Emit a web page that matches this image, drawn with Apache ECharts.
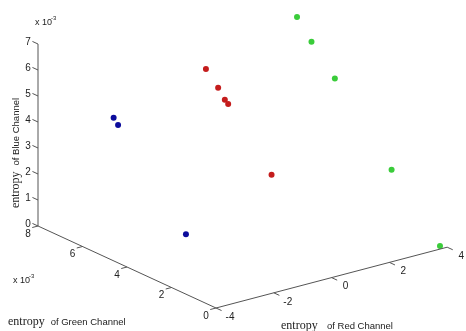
<!DOCTYPE html>
<html>
<head>
<meta charset="utf-8">
<script src="https://cdn.jsdelivr.net/npm/echarts@6/dist/echarts.min.js"></script>
<style>
html, body { margin: 0; padding: 0; background: #fff; }
#chart { width: 466px; height: 331px; }
</style>
</head>
<body>
<div id="chart"></div>
<script>
// [red entropy, green entropy (x1e-3), blue entropy (x1e-3)]
const bluePoints = [[-3, 5.9, 4.7], [-3, 5.7, 4.5], [-3, 2.65, 1.5]]
const redPoints = [[-1, 4.35, 6.6], [-1, 3.8, 6.1], [-1, 3.5, 5.75], [-1, 3.35, 5.65], [-1, 1.4, 3.7]]
const greenPoints = [[3.5, 6.1, 6.6], [3.5, 5.45, 5.9], [3.5, 4.4, 4.9], [3.5, 1.85, 2.4], [3.75, 0, 0.12]]

const redTicks = [-4, -2, 0, 2, 4]
const greenTicks = [0, 2, 4, 6, 8]
const blueTicks = [0, 1, 2, 3, 4, 5, 6, 7]

const redMin = -4
const redMax = 4
const greenMax = 8
const blueMax = 7

// oblique 3d view, screen px per data unit on each axis
const view = { origin: [216, 308], ex: [28.9, -7.6], ey: [-22.25, -10.25], ez: [0, -26] }

const axisColor = '#555'
const textColor = '#222'
const sans = `'Liberation Sans', Arial, sans-serif`
const serif = `'Liberation Serif', 'Times New Roman', serif`

function project (p) {
  const u = p[0] - redMin
  return [
    view.origin[0] + u * view.ex[0] + p[1] * view.ey[0] + p[2] * view.ez[0],
    view.origin[1] + u * view.ex[1] + p[1] * view.ey[1] + p[2] * view.ez[1]
  ]
}

function axisLine (from, to) {
  return {
    type: 'line',
    silent: true,
    symbol: 'none',
    lineStyle: { color: axisColor, width: 1 },
    data: [project(from), project(to)]
  }
}

function axisTicks (ticks, toPoint, tickDir, offset) {
  return {
    type: 'custom',
    silent: true,
    data: ticks.map(t => [t, 0]),
    renderItem (params, api) {
      const v = api.value(0)
      const p = toPoint(v)
      const a = api.coord(project(p))
      const b = api.coord(project([p[0] + tickDir[0], p[1] + tickDir[1], p[2] + tickDir[2]]))
      return {
        type: 'group',
        children: [
          { type: 'line', shape: { x1: a[0], y1: a[1], x2: b[0], y2: b[1] }, style: { stroke: axisColor, lineWidth: 1 } },
          {
            type: 'text',
            x: a[0] + offset[0],
            y: a[1] + offset[1],
            style: { text: String(v), fill: textColor, font: `10px ${sans}`, align: 'center', verticalAlign: 'middle' }
          }
        ]
      }
    }
  }
}

function dots (points, color) {
  return {
    type: 'scatter',
    symbol: 'circle',
    symbolSize: 6,
    itemStyle: { color: color, opacity: 1 },
    data: points.map(project)
  }
}

const titleRich = {
  s: { fontFamily: serif, fontSize: 12, fill: textColor },
  a: { fontFamily: sans, fontSize: 9.5, fill: textColor }
}

function exponent (x, y) {
  return [
    { type: 'text', x: x, y: y, style: { text: 'x 10', font: `9px ${sans}`, fill: textColor, verticalAlign: 'middle' } },
    { type: 'text', x: x + 16, y: y - 5, style: { text: '-3', font: `6px ${sans}`, fill: textColor, verticalAlign: 'middle' } }
  ]
}

const chart = echarts.init(document.getElementById('chart'))
chart.setOption({
  animation: false,
  backgroundColor: '#fff',
  grid: { left: 0, right: 0, top: 0, bottom: 0 },
  xAxis: { type: 'value', min: 0, max: 466, show: false },
  yAxis: { type: 'value', min: 0, max: 331, inverse: true, show: false },
  graphic: [
    {
      type: 'text', x: 16, y: 153, rotation: Math.PI / 2,
      style: { text: '{s|entropy} {a| of Blue Channel}', rich: titleRich, align: 'center', verticalAlign: 'middle' }
    },
    {
      type: 'text', x: 8, y: 322,
      style: { text: '{s|entropy} {a| of Green Channel}', rich: titleRich, verticalAlign: 'middle' }
    },
    {
      type: 'text', x: 281, y: 326,
      style: { text: '{s|entropy}  {a| of Red Channel}', rich: titleRich, verticalAlign: 'middle' }
    },
    ...exponent(35, 23),
    ...exponent(13, 281)
  ],
  series: [
    axisLine([redMin, 0, 0], [redMax, 0, 0]),
    axisLine([redMin, 0, 0], [redMin, greenMax, 0]),
    axisLine([redMin, greenMax, 0], [redMin, greenMax, blueMax]),
    axisTicks(redTicks, v => [v, 0, 0], [0, -0.25, 0], [14, 9]),
    axisTicks(greenTicks, v => [redMin, v, 0], [-0.2, 0, 0], [-10, 8]),
    axisTicks(blueTicks, v => [redMin, greenMax, v], [0, 0.25, 0], [-10, -2]),
    dots(bluePoints, '#0c0c9c'),
    dots(redPoints, '#c41c1c'),
    dots(greenPoints, '#3acc3a')
  ]
})
</script>
</body>
</html>
